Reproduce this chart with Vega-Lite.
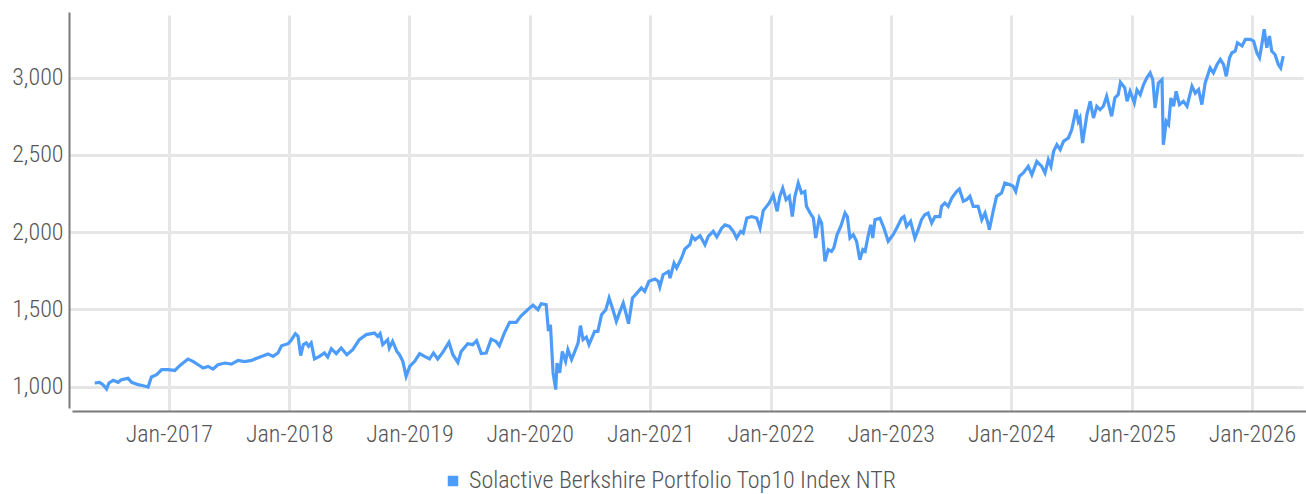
{
  "$schema": "https://vega.github.io/schema/vega-lite/v6.json",
  "width": 1234,
  "height": 396,
  "autosize": "none",
  "padding": {"left": 72, "top": 12, "right": 0, "bottom": 86},
  "background": "white",
  "config": {
    "view": {"stroke": null},
    "font": "Roboto Condensed, Liberation Sans Narrow, DejaVu Sans Condensed, Roboto",
    "axis": {
      "labelFont": "Roboto Condensed, Liberation Sans Narrow, DejaVu Sans Condensed, Roboto",
      "labelFontWeight": 300,
      "labelFontSize": 24,
      "labelColor": "#555555",
      "gridColor": "#e6e6e6",
      "gridWidth": 3,
      "domainColor": "#7a7a7a",
      "domainWidth": 2,
      "ticks": false,
      "title": null,
      "offset": 3
    },
    "legend": {
      "labelFont": "Roboto Condensed, Liberation Sans Narrow, DejaVu Sans Condensed, Roboto",
      "labelFontWeight": 300,
      "labelFontSize": 24,
      "labelColor": "#555555",
      "labelLimit": 0,
      "padding": 0
    }
  },
  "data": {
    "values": [
      {"date": "2016-05-21", "value": 1024, "series": "Solactive Berkshire Portfolio Top10 Index NTR"},
      {"date": "2016-06-05", "value": 1028, "series": "Solactive Berkshire Portfolio Top10 Index NTR"},
      {"date": "2016-06-15", "value": 1013, "series": "Solactive Berkshire Portfolio Top10 Index NTR"},
      {"date": "2016-06-26", "value": 985, "series": "Solactive Berkshire Portfolio Top10 Index NTR"},
      {"date": "2016-07-03", "value": 1024, "series": "Solactive Berkshire Portfolio Top10 Index NTR"},
      {"date": "2016-07-16", "value": 1041, "series": "Solactive Berkshire Portfolio Top10 Index NTR"},
      {"date": "2016-07-31", "value": 1028, "series": "Solactive Berkshire Portfolio Top10 Index NTR"},
      {"date": "2016-08-10", "value": 1045, "series": "Solactive Berkshire Portfolio Top10 Index NTR"},
      {"date": "2016-08-30", "value": 1054, "series": "Solactive Berkshire Portfolio Top10 Index NTR"},
      {"date": "2016-09-10", "value": 1028, "series": "Solactive Berkshire Portfolio Top10 Index NTR"},
      {"date": "2016-09-30", "value": 1013, "series": "Solactive Berkshire Portfolio Top10 Index NTR"},
      {"date": "2016-10-15", "value": 1006, "series": "Solactive Berkshire Portfolio Top10 Index NTR"},
      {"date": "2016-10-30", "value": 998, "series": "Solactive Berkshire Portfolio Top10 Index NTR"},
      {"date": "2016-11-09", "value": 1063, "series": "Solactive Berkshire Portfolio Top10 Index NTR"},
      {"date": "2016-11-25", "value": 1078, "series": "Solactive Berkshire Portfolio Top10 Index NTR"},
      {"date": "2016-12-10", "value": 1110, "series": "Solactive Berkshire Portfolio Top10 Index NTR"},
      {"date": "2016-12-30", "value": 1110, "series": "Solactive Berkshire Portfolio Top10 Index NTR"},
      {"date": "2017-01-19", "value": 1105, "series": "Solactive Berkshire Portfolio Top10 Index NTR"},
      {"date": "2017-02-03", "value": 1136, "series": "Solactive Berkshire Portfolio Top10 Index NTR"},
      {"date": "2017-02-13", "value": 1153, "series": "Solactive Berkshire Portfolio Top10 Index NTR"},
      {"date": "2017-02-28", "value": 1179, "series": "Solactive Berkshire Portfolio Top10 Index NTR"},
      {"date": "2017-03-15", "value": 1164, "series": "Solactive Berkshire Portfolio Top10 Index NTR"},
      {"date": "2017-03-31", "value": 1142, "series": "Solactive Berkshire Portfolio Top10 Index NTR"},
      {"date": "2017-04-15", "value": 1121, "series": "Solactive Berkshire Portfolio Top10 Index NTR"},
      {"date": "2017-04-30", "value": 1131, "series": "Solactive Berkshire Portfolio Top10 Index NTR"},
      {"date": "2017-05-15", "value": 1114, "series": "Solactive Berkshire Portfolio Top10 Index NTR"},
      {"date": "2017-05-30", "value": 1142, "series": "Solactive Berkshire Portfolio Top10 Index NTR"},
      {"date": "2017-06-20", "value": 1153, "series": "Solactive Berkshire Portfolio Top10 Index NTR"},
      {"date": "2017-07-10", "value": 1146, "series": "Solactive Berkshire Portfolio Top10 Index NTR"},
      {"date": "2017-07-30", "value": 1170, "series": "Solactive Berkshire Portfolio Top10 Index NTR"},
      {"date": "2017-08-19", "value": 1162, "series": "Solactive Berkshire Portfolio Top10 Index NTR"},
      {"date": "2017-09-09", "value": 1170, "series": "Solactive Berkshire Portfolio Top10 Index NTR"},
      {"date": "2017-09-19", "value": 1179, "series": "Solactive Berkshire Portfolio Top10 Index NTR"},
      {"date": "2017-10-09", "value": 1196, "series": "Solactive Berkshire Portfolio Top10 Index NTR"},
      {"date": "2017-10-29", "value": 1212, "series": "Solactive Berkshire Portfolio Top10 Index NTR"},
      {"date": "2017-11-13", "value": 1196, "series": "Solactive Berkshire Portfolio Top10 Index NTR"},
      {"date": "2017-11-28", "value": 1218, "series": "Solactive Berkshire Portfolio Top10 Index NTR"},
      {"date": "2017-12-09", "value": 1265, "series": "Solactive Berkshire Portfolio Top10 Index NTR"},
      {"date": "2017-12-29", "value": 1278, "series": "Solactive Berkshire Portfolio Top10 Index NTR"},
      {"date": "2018-01-08", "value": 1304, "series": "Solactive Berkshire Portfolio Top10 Index NTR"},
      {"date": "2018-01-20", "value": 1343, "series": "Solactive Berkshire Portfolio Top10 Index NTR"},
      {"date": "2018-01-28", "value": 1326, "series": "Solactive Berkshire Portfolio Top10 Index NTR"},
      {"date": "2018-02-05", "value": 1201, "series": "Solactive Berkshire Portfolio Top10 Index NTR"},
      {"date": "2018-02-13", "value": 1272, "series": "Solactive Berkshire Portfolio Top10 Index NTR"},
      {"date": "2018-02-22", "value": 1283, "series": "Solactive Berkshire Portfolio Top10 Index NTR"},
      {"date": "2018-03-01", "value": 1261, "series": "Solactive Berkshire Portfolio Top10 Index NTR"},
      {"date": "2018-03-09", "value": 1283, "series": "Solactive Berkshire Portfolio Top10 Index NTR"},
      {"date": "2018-03-19", "value": 1180, "series": "Solactive Berkshire Portfolio Top10 Index NTR"},
      {"date": "2018-04-03", "value": 1196, "series": "Solactive Berkshire Portfolio Top10 Index NTR"},
      {"date": "2018-04-18", "value": 1218, "series": "Solactive Berkshire Portfolio Top10 Index NTR"},
      {"date": "2018-04-28", "value": 1192, "series": "Solactive Berkshire Portfolio Top10 Index NTR"},
      {"date": "2018-05-09", "value": 1246, "series": "Solactive Berkshire Portfolio Top10 Index NTR"},
      {"date": "2018-05-24", "value": 1214, "series": "Solactive Berkshire Portfolio Top10 Index NTR"},
      {"date": "2018-06-08", "value": 1250, "series": "Solactive Berkshire Portfolio Top10 Index NTR"},
      {"date": "2018-06-25", "value": 1207, "series": "Solactive Berkshire Portfolio Top10 Index NTR"},
      {"date": "2018-07-13", "value": 1239, "series": "Solactive Berkshire Portfolio Top10 Index NTR"},
      {"date": "2018-08-02", "value": 1304, "series": "Solactive Berkshire Portfolio Top10 Index NTR"},
      {"date": "2018-08-23", "value": 1337, "series": "Solactive Berkshire Portfolio Top10 Index NTR"},
      {"date": "2018-09-17", "value": 1347, "series": "Solactive Berkshire Portfolio Top10 Index NTR"},
      {"date": "2018-09-27", "value": 1326, "series": "Solactive Berkshire Portfolio Top10 Index NTR"},
      {"date": "2018-10-04", "value": 1343, "series": "Solactive Berkshire Portfolio Top10 Index NTR"},
      {"date": "2018-10-12", "value": 1272, "series": "Solactive Berkshire Portfolio Top10 Index NTR"},
      {"date": "2018-10-27", "value": 1304, "series": "Solactive Berkshire Portfolio Top10 Index NTR"},
      {"date": "2018-11-01", "value": 1250, "series": "Solactive Berkshire Portfolio Top10 Index NTR"},
      {"date": "2018-11-11", "value": 1293, "series": "Solactive Berkshire Portfolio Top10 Index NTR"},
      {"date": "2018-11-24", "value": 1228, "series": "Solactive Berkshire Portfolio Top10 Index NTR"},
      {"date": "2018-12-02", "value": 1207, "series": "Solactive Berkshire Portfolio Top10 Index NTR"},
      {"date": "2018-12-12", "value": 1164, "series": "Solactive Berkshire Portfolio Top10 Index NTR"},
      {"date": "2018-12-22", "value": 1067, "series": "Solactive Berkshire Portfolio Top10 Index NTR"},
      {"date": "2019-01-02", "value": 1131, "series": "Solactive Berkshire Portfolio Top10 Index NTR"},
      {"date": "2019-01-17", "value": 1164, "series": "Solactive Berkshire Portfolio Top10 Index NTR"},
      {"date": "2019-02-01", "value": 1214, "series": "Solactive Berkshire Portfolio Top10 Index NTR"},
      {"date": "2019-02-16", "value": 1196, "series": "Solactive Berkshire Portfolio Top10 Index NTR"},
      {"date": "2019-03-03", "value": 1179, "series": "Solactive Berkshire Portfolio Top10 Index NTR"},
      {"date": "2019-03-15", "value": 1218, "series": "Solactive Berkshire Portfolio Top10 Index NTR"},
      {"date": "2019-03-28", "value": 1179, "series": "Solactive Berkshire Portfolio Top10 Index NTR"},
      {"date": "2019-04-12", "value": 1222, "series": "Solactive Berkshire Portfolio Top10 Index NTR"},
      {"date": "2019-05-01", "value": 1287, "series": "Solactive Berkshire Portfolio Top10 Index NTR"},
      {"date": "2019-05-13", "value": 1207, "series": "Solactive Berkshire Portfolio Top10 Index NTR"},
      {"date": "2019-05-28", "value": 1157, "series": "Solactive Berkshire Portfolio Top10 Index NTR"},
      {"date": "2019-06-07", "value": 1228, "series": "Solactive Berkshire Portfolio Top10 Index NTR"},
      {"date": "2019-06-27", "value": 1278, "series": "Solactive Berkshire Portfolio Top10 Index NTR"},
      {"date": "2019-07-12", "value": 1272, "series": "Solactive Berkshire Portfolio Top10 Index NTR"},
      {"date": "2019-07-24", "value": 1298, "series": "Solactive Berkshire Portfolio Top10 Index NTR"},
      {"date": "2019-08-07", "value": 1214, "series": "Solactive Berkshire Portfolio Top10 Index NTR"},
      {"date": "2019-08-22", "value": 1218, "series": "Solactive Berkshire Portfolio Top10 Index NTR"},
      {"date": "2019-09-06", "value": 1308, "series": "Solactive Berkshire Portfolio Top10 Index NTR"},
      {"date": "2019-09-21", "value": 1293, "series": "Solactive Berkshire Portfolio Top10 Index NTR"},
      {"date": "2019-10-01", "value": 1265, "series": "Solactive Berkshire Portfolio Top10 Index NTR"},
      {"date": "2019-10-16", "value": 1347, "series": "Solactive Berkshire Portfolio Top10 Index NTR"},
      {"date": "2019-11-01", "value": 1416, "series": "Solactive Berkshire Portfolio Top10 Index NTR"},
      {"date": "2019-11-21", "value": 1416, "series": "Solactive Berkshire Portfolio Top10 Index NTR"},
      {"date": "2019-12-06", "value": 1459, "series": "Solactive Berkshire Portfolio Top10 Index NTR"},
      {"date": "2019-12-26", "value": 1498, "series": "Solactive Berkshire Portfolio Top10 Index NTR"},
      {"date": "2020-01-11", "value": 1528, "series": "Solactive Berkshire Portfolio Top10 Index NTR"},
      {"date": "2020-01-26", "value": 1498, "series": "Solactive Berkshire Portfolio Top10 Index NTR"},
      {"date": "2020-02-05", "value": 1537, "series": "Solactive Berkshire Portfolio Top10 Index NTR"},
      {"date": "2020-02-20", "value": 1531, "series": "Solactive Berkshire Portfolio Top10 Index NTR"},
      {"date": "2020-02-27", "value": 1360, "series": "Solactive Berkshire Portfolio Top10 Index NTR"},
      {"date": "2020-03-04", "value": 1401, "series": "Solactive Berkshire Portfolio Top10 Index NTR"},
      {"date": "2020-03-12", "value": 1089, "series": "Solactive Berkshire Portfolio Top10 Index NTR"},
      {"date": "2020-03-20", "value": 981, "series": "Solactive Berkshire Portfolio Top10 Index NTR"},
      {"date": "2020-03-24", "value": 1153, "series": "Solactive Berkshire Portfolio Top10 Index NTR"},
      {"date": "2020-04-01", "value": 1089, "series": "Solactive Berkshire Portfolio Top10 Index NTR"},
      {"date": "2020-04-09", "value": 1228, "series": "Solactive Berkshire Portfolio Top10 Index NTR"},
      {"date": "2020-04-19", "value": 1164, "series": "Solactive Berkshire Portfolio Top10 Index NTR"},
      {"date": "2020-04-26", "value": 1239, "series": "Solactive Berkshire Portfolio Top10 Index NTR"},
      {"date": "2020-05-07", "value": 1175, "series": "Solactive Berkshire Portfolio Top10 Index NTR"},
      {"date": "2020-05-17", "value": 1228, "series": "Solactive Berkshire Portfolio Top10 Index NTR"},
      {"date": "2020-05-27", "value": 1283, "series": "Solactive Berkshire Portfolio Top10 Index NTR"},
      {"date": "2020-06-03", "value": 1395, "series": "Solactive Berkshire Portfolio Top10 Index NTR"},
      {"date": "2020-06-11", "value": 1304, "series": "Solactive Berkshire Portfolio Top10 Index NTR"},
      {"date": "2020-06-21", "value": 1321, "series": "Solactive Berkshire Portfolio Top10 Index NTR"},
      {"date": "2020-06-29", "value": 1272, "series": "Solactive Berkshire Portfolio Top10 Index NTR"},
      {"date": "2020-07-16", "value": 1358, "series": "Solactive Berkshire Portfolio Top10 Index NTR"},
      {"date": "2020-07-26", "value": 1358, "series": "Solactive Berkshire Portfolio Top10 Index NTR"},
      {"date": "2020-08-06", "value": 1466, "series": "Solactive Berkshire Portfolio Top10 Index NTR"},
      {"date": "2020-08-19", "value": 1498, "series": "Solactive Berkshire Portfolio Top10 Index NTR"},
      {"date": "2020-08-29", "value": 1574, "series": "Solactive Berkshire Portfolio Top10 Index NTR"},
      {"date": "2020-09-08", "value": 1509, "series": "Solactive Berkshire Portfolio Top10 Index NTR"},
      {"date": "2020-09-20", "value": 1423, "series": "Solactive Berkshire Portfolio Top10 Index NTR"},
      {"date": "2020-10-01", "value": 1487, "series": "Solactive Berkshire Portfolio Top10 Index NTR"},
      {"date": "2020-10-11", "value": 1541, "series": "Solactive Berkshire Portfolio Top10 Index NTR"},
      {"date": "2020-10-19", "value": 1477, "series": "Solactive Berkshire Portfolio Top10 Index NTR"},
      {"date": "2020-10-27", "value": 1408, "series": "Solactive Berkshire Portfolio Top10 Index NTR"},
      {"date": "2020-11-08", "value": 1574, "series": "Solactive Berkshire Portfolio Top10 Index NTR"},
      {"date": "2020-11-20", "value": 1602, "series": "Solactive Berkshire Portfolio Top10 Index NTR"},
      {"date": "2020-12-05", "value": 1639, "series": "Solactive Berkshire Portfolio Top10 Index NTR"},
      {"date": "2020-12-15", "value": 1617, "series": "Solactive Berkshire Portfolio Top10 Index NTR"},
      {"date": "2020-12-28", "value": 1682, "series": "Solactive Berkshire Portfolio Top10 Index NTR"},
      {"date": "2021-01-15", "value": 1697, "series": "Solactive Berkshire Portfolio Top10 Index NTR"},
      {"date": "2021-01-25", "value": 1682, "series": "Solactive Berkshire Portfolio Top10 Index NTR"},
      {"date": "2021-01-30", "value": 1645, "series": "Solactive Berkshire Portfolio Top10 Index NTR"},
      {"date": "2021-02-09", "value": 1725, "series": "Solactive Berkshire Portfolio Top10 Index NTR"},
      {"date": "2021-02-25", "value": 1746, "series": "Solactive Berkshire Portfolio Top10 Index NTR"},
      {"date": "2021-03-02", "value": 1703, "series": "Solactive Berkshire Portfolio Top10 Index NTR"},
      {"date": "2021-03-14", "value": 1800, "series": "Solactive Berkshire Portfolio Top10 Index NTR"},
      {"date": "2021-03-22", "value": 1768, "series": "Solactive Berkshire Portfolio Top10 Index NTR"},
      {"date": "2021-04-06", "value": 1833, "series": "Solactive Berkshire Portfolio Top10 Index NTR"},
      {"date": "2021-04-16", "value": 1891, "series": "Solactive Berkshire Portfolio Top10 Index NTR"},
      {"date": "2021-05-01", "value": 1919, "series": "Solactive Berkshire Portfolio Top10 Index NTR"},
      {"date": "2021-05-08", "value": 1973, "series": "Solactive Berkshire Portfolio Top10 Index NTR"},
      {"date": "2021-05-17", "value": 1951, "series": "Solactive Berkshire Portfolio Top10 Index NTR"},
      {"date": "2021-06-01", "value": 1977, "series": "Solactive Berkshire Portfolio Top10 Index NTR"},
      {"date": "2021-06-16", "value": 1919, "series": "Solactive Berkshire Portfolio Top10 Index NTR"},
      {"date": "2021-06-26", "value": 1973, "series": "Solactive Berkshire Portfolio Top10 Index NTR"},
      {"date": "2021-07-11", "value": 2005, "series": "Solactive Berkshire Portfolio Top10 Index NTR"},
      {"date": "2021-07-22", "value": 1969, "series": "Solactive Berkshire Portfolio Top10 Index NTR"},
      {"date": "2021-08-06", "value": 2027, "series": "Solactive Berkshire Portfolio Top10 Index NTR"},
      {"date": "2021-08-16", "value": 2048, "series": "Solactive Berkshire Portfolio Top10 Index NTR"},
      {"date": "2021-08-29", "value": 2037, "series": "Solactive Berkshire Portfolio Top10 Index NTR"},
      {"date": "2021-09-10", "value": 2005, "series": "Solactive Berkshire Portfolio Top10 Index NTR"},
      {"date": "2021-09-20", "value": 1962, "series": "Solactive Berkshire Portfolio Top10 Index NTR"},
      {"date": "2021-10-02", "value": 2005, "series": "Solactive Berkshire Portfolio Top10 Index NTR"},
      {"date": "2021-10-10", "value": 1994, "series": "Solactive Berkshire Portfolio Top10 Index NTR"},
      {"date": "2021-10-21", "value": 2091, "series": "Solactive Berkshire Portfolio Top10 Index NTR"},
      {"date": "2021-11-05", "value": 2101, "series": "Solactive Berkshire Portfolio Top10 Index NTR"},
      {"date": "2021-11-20", "value": 2091, "series": "Solactive Berkshire Portfolio Top10 Index NTR"},
      {"date": "2021-11-30", "value": 2027, "series": "Solactive Berkshire Portfolio Top10 Index NTR"},
      {"date": "2021-12-10", "value": 2140, "series": "Solactive Berkshire Portfolio Top10 Index NTR"},
      {"date": "2021-12-20", "value": 2167, "series": "Solactive Berkshire Portfolio Top10 Index NTR"},
      {"date": "2021-12-28", "value": 2189, "series": "Solactive Berkshire Portfolio Top10 Index NTR"},
      {"date": "2022-01-09", "value": 2240, "series": "Solactive Berkshire Portfolio Top10 Index NTR"},
      {"date": "2022-01-21", "value": 2135, "series": "Solactive Berkshire Portfolio Top10 Index NTR"},
      {"date": "2022-01-29", "value": 2232, "series": "Solactive Berkshire Portfolio Top10 Index NTR"},
      {"date": "2022-02-07", "value": 2285, "series": "Solactive Berkshire Portfolio Top10 Index NTR"},
      {"date": "2022-02-17", "value": 2210, "series": "Solactive Berkshire Portfolio Top10 Index NTR"},
      {"date": "2022-02-27", "value": 2232, "series": "Solactive Berkshire Portfolio Top10 Index NTR"},
      {"date": "2022-03-08", "value": 2101, "series": "Solactive Berkshire Portfolio Top10 Index NTR"},
      {"date": "2022-03-16", "value": 2232, "series": "Solactive Berkshire Portfolio Top10 Index NTR"},
      {"date": "2022-03-26", "value": 2318, "series": "Solactive Berkshire Portfolio Top10 Index NTR"},
      {"date": "2022-04-05", "value": 2253, "series": "Solactive Berkshire Portfolio Top10 Index NTR"},
      {"date": "2022-04-15", "value": 2264, "series": "Solactive Berkshire Portfolio Top10 Index NTR"},
      {"date": "2022-04-20", "value": 2167, "series": "Solactive Berkshire Portfolio Top10 Index NTR"},
      {"date": "2022-05-01", "value": 2124, "series": "Solactive Berkshire Portfolio Top10 Index NTR"},
      {"date": "2022-05-11", "value": 2091, "series": "Solactive Berkshire Portfolio Top10 Index NTR"},
      {"date": "2022-05-18", "value": 1962, "series": "Solactive Berkshire Portfolio Top10 Index NTR"},
      {"date": "2022-05-29", "value": 2091, "series": "Solactive Berkshire Portfolio Top10 Index NTR"},
      {"date": "2022-06-05", "value": 2059, "series": "Solactive Berkshire Portfolio Top10 Index NTR"},
      {"date": "2022-06-15", "value": 1811, "series": "Solactive Berkshire Portfolio Top10 Index NTR"},
      {"date": "2022-06-25", "value": 1887, "series": "Solactive Berkshire Portfolio Top10 Index NTR"},
      {"date": "2022-07-05", "value": 1876, "series": "Solactive Berkshire Portfolio Top10 Index NTR"},
      {"date": "2022-07-12", "value": 1898, "series": "Solactive Berkshire Portfolio Top10 Index NTR"},
      {"date": "2022-07-22", "value": 1984, "series": "Solactive Berkshire Portfolio Top10 Index NTR"},
      {"date": "2022-08-02", "value": 2037, "series": "Solactive Berkshire Portfolio Top10 Index NTR"},
      {"date": "2022-08-15", "value": 2124, "series": "Solactive Berkshire Portfolio Top10 Index NTR"},
      {"date": "2022-08-22", "value": 2101, "series": "Solactive Berkshire Portfolio Top10 Index NTR"},
      {"date": "2022-08-30", "value": 1962, "series": "Solactive Berkshire Portfolio Top10 Index NTR"},
      {"date": "2022-09-09", "value": 1984, "series": "Solactive Berkshire Portfolio Top10 Index NTR"},
      {"date": "2022-09-19", "value": 1941, "series": "Solactive Berkshire Portfolio Top10 Index NTR"},
      {"date": "2022-09-29", "value": 1822, "series": "Solactive Berkshire Portfolio Top10 Index NTR"},
      {"date": "2022-10-08", "value": 1887, "series": "Solactive Berkshire Portfolio Top10 Index NTR"},
      {"date": "2022-10-15", "value": 1876, "series": "Solactive Berkshire Portfolio Top10 Index NTR"},
      {"date": "2022-10-25", "value": 1984, "series": "Solactive Berkshire Portfolio Top10 Index NTR"},
      {"date": "2022-11-01", "value": 2048, "series": "Solactive Berkshire Portfolio Top10 Index NTR"},
      {"date": "2022-11-07", "value": 1962, "series": "Solactive Berkshire Portfolio Top10 Index NTR"},
      {"date": "2022-11-14", "value": 2081, "series": "Solactive Berkshire Portfolio Top10 Index NTR"},
      {"date": "2022-11-29", "value": 2091, "series": "Solactive Berkshire Portfolio Top10 Index NTR"},
      {"date": "2022-12-11", "value": 2027, "series": "Solactive Berkshire Portfolio Top10 Index NTR"},
      {"date": "2022-12-24", "value": 1941, "series": "Solactive Berkshire Portfolio Top10 Index NTR"},
      {"date": "2023-01-08", "value": 1984, "series": "Solactive Berkshire Portfolio Top10 Index NTR"},
      {"date": "2023-01-19", "value": 2027, "series": "Solactive Berkshire Portfolio Top10 Index NTR"},
      {"date": "2023-02-03", "value": 2091, "series": "Solactive Berkshire Portfolio Top10 Index NTR"},
      {"date": "2023-02-10", "value": 2101, "series": "Solactive Berkshire Portfolio Top10 Index NTR"},
      {"date": "2023-02-18", "value": 2037, "series": "Solactive Berkshire Portfolio Top10 Index NTR"},
      {"date": "2023-03-02", "value": 2070, "series": "Solactive Berkshire Portfolio Top10 Index NTR"},
      {"date": "2023-03-15", "value": 1962, "series": "Solactive Berkshire Portfolio Top10 Index NTR"},
      {"date": "2023-03-25", "value": 2016, "series": "Solactive Berkshire Portfolio Top10 Index NTR"},
      {"date": "2023-04-04", "value": 2081, "series": "Solactive Berkshire Portfolio Top10 Index NTR"},
      {"date": "2023-04-14", "value": 2113, "series": "Solactive Berkshire Portfolio Top10 Index NTR"},
      {"date": "2023-04-24", "value": 2124, "series": "Solactive Berkshire Portfolio Top10 Index NTR"},
      {"date": "2023-05-05", "value": 2059, "series": "Solactive Berkshire Portfolio Top10 Index NTR"},
      {"date": "2023-05-15", "value": 2101, "series": "Solactive Berkshire Portfolio Top10 Index NTR"},
      {"date": "2023-05-30", "value": 2101, "series": "Solactive Berkshire Portfolio Top10 Index NTR"},
      {"date": "2023-06-04", "value": 2167, "series": "Solactive Berkshire Portfolio Top10 Index NTR"},
      {"date": "2023-06-14", "value": 2189, "series": "Solactive Berkshire Portfolio Top10 Index NTR"},
      {"date": "2023-06-24", "value": 2167, "series": "Solactive Berkshire Portfolio Top10 Index NTR"},
      {"date": "2023-07-05", "value": 2221, "series": "Solactive Berkshire Portfolio Top10 Index NTR"},
      {"date": "2023-07-20", "value": 2264, "series": "Solactive Berkshire Portfolio Top10 Index NTR"},
      {"date": "2023-07-28", "value": 2279, "series": "Solactive Berkshire Portfolio Top10 Index NTR"},
      {"date": "2023-08-09", "value": 2200, "series": "Solactive Berkshire Portfolio Top10 Index NTR"},
      {"date": "2023-08-19", "value": 2210, "series": "Solactive Berkshire Portfolio Top10 Index NTR"},
      {"date": "2023-08-29", "value": 2232, "series": "Solactive Berkshire Portfolio Top10 Index NTR"},
      {"date": "2023-09-08", "value": 2167, "series": "Solactive Berkshire Portfolio Top10 Index NTR"},
      {"date": "2023-09-23", "value": 2167, "series": "Solactive Berkshire Portfolio Top10 Index NTR"},
      {"date": "2023-10-04", "value": 2081, "series": "Solactive Berkshire Portfolio Top10 Index NTR"},
      {"date": "2023-10-14", "value": 2124, "series": "Solactive Berkshire Portfolio Top10 Index NTR"},
      {"date": "2023-10-24", "value": 2048, "series": "Solactive Berkshire Portfolio Top10 Index NTR"},
      {"date": "2023-10-27", "value": 2016, "series": "Solactive Berkshire Portfolio Top10 Index NTR"},
      {"date": "2023-11-08", "value": 2140, "series": "Solactive Berkshire Portfolio Top10 Index NTR"},
      {"date": "2023-11-18", "value": 2232, "series": "Solactive Berkshire Portfolio Top10 Index NTR"},
      {"date": "2023-12-03", "value": 2253, "series": "Solactive Berkshire Portfolio Top10 Index NTR"},
      {"date": "2023-12-13", "value": 2318, "series": "Solactive Berkshire Portfolio Top10 Index NTR"},
      {"date": "2023-12-29", "value": 2307, "series": "Solactive Berkshire Portfolio Top10 Index NTR"},
      {"date": "2024-01-07", "value": 2297, "series": "Solactive Berkshire Portfolio Top10 Index NTR"},
      {"date": "2024-01-15", "value": 2264, "series": "Solactive Berkshire Portfolio Top10 Index NTR"},
      {"date": "2024-01-26", "value": 2361, "series": "Solactive Berkshire Portfolio Top10 Index NTR"},
      {"date": "2024-02-07", "value": 2383, "series": "Solactive Berkshire Portfolio Top10 Index NTR"},
      {"date": "2024-02-22", "value": 2426, "series": "Solactive Berkshire Portfolio Top10 Index NTR"},
      {"date": "2024-03-04", "value": 2372, "series": "Solactive Berkshire Portfolio Top10 Index NTR"},
      {"date": "2024-03-19", "value": 2458, "series": "Solactive Berkshire Portfolio Top10 Index NTR"},
      {"date": "2024-04-03", "value": 2426, "series": "Solactive Berkshire Portfolio Top10 Index NTR"},
      {"date": "2024-04-13", "value": 2383, "series": "Solactive Berkshire Portfolio Top10 Index NTR"},
      {"date": "2024-04-23", "value": 2469, "series": "Solactive Berkshire Portfolio Top10 Index NTR"},
      {"date": "2024-05-01", "value": 2426, "series": "Solactive Berkshire Portfolio Top10 Index NTR"},
      {"date": "2024-05-09", "value": 2523, "series": "Solactive Berkshire Portfolio Top10 Index NTR"},
      {"date": "2024-05-19", "value": 2566, "series": "Solactive Berkshire Portfolio Top10 Index NTR"},
      {"date": "2024-05-29", "value": 2534, "series": "Solactive Berkshire Portfolio Top10 Index NTR"},
      {"date": "2024-06-08", "value": 2588, "series": "Solactive Berkshire Portfolio Top10 Index NTR"},
      {"date": "2024-06-23", "value": 2610, "series": "Solactive Berkshire Portfolio Top10 Index NTR"},
      {"date": "2024-07-03", "value": 2663, "series": "Solactive Berkshire Portfolio Top10 Index NTR"},
      {"date": "2024-07-16", "value": 2793, "series": "Solactive Berkshire Portfolio Top10 Index NTR"},
      {"date": "2024-07-23", "value": 2717, "series": "Solactive Berkshire Portfolio Top10 Index NTR"},
      {"date": "2024-07-28", "value": 2739, "series": "Solactive Berkshire Portfolio Top10 Index NTR"},
      {"date": "2024-08-05", "value": 2577, "series": "Solactive Berkshire Portfolio Top10 Index NTR"},
      {"date": "2024-08-18", "value": 2760, "series": "Solactive Berkshire Portfolio Top10 Index NTR"},
      {"date": "2024-08-28", "value": 2847, "series": "Solactive Berkshire Portfolio Top10 Index NTR"},
      {"date": "2024-09-07", "value": 2739, "series": "Solactive Berkshire Portfolio Top10 Index NTR"},
      {"date": "2024-09-17", "value": 2815, "series": "Solactive Berkshire Portfolio Top10 Index NTR"},
      {"date": "2024-09-27", "value": 2793, "series": "Solactive Berkshire Portfolio Top10 Index NTR"},
      {"date": "2024-10-07", "value": 2815, "series": "Solactive Berkshire Portfolio Top10 Index NTR"},
      {"date": "2024-10-17", "value": 2880, "series": "Solactive Berkshire Portfolio Top10 Index NTR"},
      {"date": "2024-11-01", "value": 2750, "series": "Solactive Berkshire Portfolio Top10 Index NTR"},
      {"date": "2024-11-11", "value": 2869, "series": "Solactive Berkshire Portfolio Top10 Index NTR"},
      {"date": "2024-11-21", "value": 2890, "series": "Solactive Berkshire Portfolio Top10 Index NTR"},
      {"date": "2024-11-28", "value": 2970, "series": "Solactive Berkshire Portfolio Top10 Index NTR"},
      {"date": "2024-12-11", "value": 2934, "series": "Solactive Berkshire Portfolio Top10 Index NTR"},
      {"date": "2024-12-18", "value": 2847, "series": "Solactive Berkshire Portfolio Top10 Index NTR"},
      {"date": "2024-12-27", "value": 2912, "series": "Solactive Berkshire Portfolio Top10 Index NTR"},
      {"date": "2025-01-09", "value": 2837, "series": "Solactive Berkshire Portfolio Top10 Index NTR"},
      {"date": "2025-01-17", "value": 2920, "series": "Solactive Berkshire Portfolio Top10 Index NTR"},
      {"date": "2025-01-27", "value": 2890, "series": "Solactive Berkshire Portfolio Top10 Index NTR"},
      {"date": "2025-02-06", "value": 2955, "series": "Solactive Berkshire Portfolio Top10 Index NTR"},
      {"date": "2025-02-16", "value": 2999, "series": "Solactive Berkshire Portfolio Top10 Index NTR"},
      {"date": "2025-02-26", "value": 3031, "series": "Solactive Berkshire Portfolio Top10 Index NTR"},
      {"date": "2025-03-06", "value": 2988, "series": "Solactive Berkshire Portfolio Top10 Index NTR"},
      {"date": "2025-03-13", "value": 2804, "series": "Solactive Berkshire Portfolio Top10 Index NTR"},
      {"date": "2025-03-23", "value": 2966, "series": "Solactive Berkshire Portfolio Top10 Index NTR"},
      {"date": "2025-04-03", "value": 2988, "series": "Solactive Berkshire Portfolio Top10 Index NTR"},
      {"date": "2025-04-07", "value": 2566, "series": "Solactive Berkshire Portfolio Top10 Index NTR"},
      {"date": "2025-04-16", "value": 2717, "series": "Solactive Berkshire Portfolio Top10 Index NTR"},
      {"date": "2025-04-23", "value": 2696, "series": "Solactive Berkshire Portfolio Top10 Index NTR"},
      {"date": "2025-04-30", "value": 2869, "series": "Solactive Berkshire Portfolio Top10 Index NTR"},
      {"date": "2025-05-08", "value": 2815, "series": "Solactive Berkshire Portfolio Top10 Index NTR"},
      {"date": "2025-05-16", "value": 2912, "series": "Solactive Berkshire Portfolio Top10 Index NTR"},
      {"date": "2025-05-26", "value": 2826, "series": "Solactive Berkshire Portfolio Top10 Index NTR"},
      {"date": "2025-06-07", "value": 2847, "series": "Solactive Berkshire Portfolio Top10 Index NTR"},
      {"date": "2025-06-18", "value": 2815, "series": "Solactive Berkshire Portfolio Top10 Index NTR"},
      {"date": "2025-07-03", "value": 2945, "series": "Solactive Berkshire Portfolio Top10 Index NTR"},
      {"date": "2025-07-13", "value": 2900, "series": "Solactive Berkshire Portfolio Top10 Index NTR"},
      {"date": "2025-07-23", "value": 2923, "series": "Solactive Berkshire Portfolio Top10 Index NTR"},
      {"date": "2025-08-02", "value": 2826, "series": "Solactive Berkshire Portfolio Top10 Index NTR"},
      {"date": "2025-08-12", "value": 2966, "series": "Solactive Berkshire Portfolio Top10 Index NTR"},
      {"date": "2025-08-27", "value": 3063, "series": "Solactive Berkshire Portfolio Top10 Index NTR"},
      {"date": "2025-09-06", "value": 3031, "series": "Solactive Berkshire Portfolio Top10 Index NTR"},
      {"date": "2025-09-17", "value": 3085, "series": "Solactive Berkshire Portfolio Top10 Index NTR"},
      {"date": "2025-09-27", "value": 3118, "series": "Solactive Berkshire Portfolio Top10 Index NTR"},
      {"date": "2025-10-07", "value": 3085, "series": "Solactive Berkshire Portfolio Top10 Index NTR"},
      {"date": "2025-10-15", "value": 3009, "series": "Solactive Berkshire Portfolio Top10 Index NTR"},
      {"date": "2025-10-25", "value": 3129, "series": "Solactive Berkshire Portfolio Top10 Index NTR"},
      {"date": "2025-11-01", "value": 3161, "series": "Solactive Berkshire Portfolio Top10 Index NTR"},
      {"date": "2025-11-11", "value": 3172, "series": "Solactive Berkshire Portfolio Top10 Index NTR"},
      {"date": "2025-11-18", "value": 3226, "series": "Solactive Berkshire Portfolio Top10 Index NTR"},
      {"date": "2025-12-02", "value": 3205, "series": "Solactive Berkshire Portfolio Top10 Index NTR"},
      {"date": "2025-12-12", "value": 3248, "series": "Solactive Berkshire Portfolio Top10 Index NTR"},
      {"date": "2025-12-27", "value": 3248, "series": "Solactive Berkshire Portfolio Top10 Index NTR"},
      {"date": "2026-01-06", "value": 3237, "series": "Solactive Berkshire Portfolio Top10 Index NTR"},
      {"date": "2026-01-16", "value": 3161, "series": "Solactive Berkshire Portfolio Top10 Index NTR"},
      {"date": "2026-01-24", "value": 3129, "series": "Solactive Berkshire Portfolio Top10 Index NTR"},
      {"date": "2026-01-31", "value": 3215, "series": "Solactive Berkshire Portfolio Top10 Index NTR"},
      {"date": "2026-02-07", "value": 3313, "series": "Solactive Berkshire Portfolio Top10 Index NTR"},
      {"date": "2026-02-15", "value": 3194, "series": "Solactive Berkshire Portfolio Top10 Index NTR"},
      {"date": "2026-02-23", "value": 3269, "series": "Solactive Berkshire Portfolio Top10 Index NTR"},
      {"date": "2026-03-02", "value": 3172, "series": "Solactive Berkshire Portfolio Top10 Index NTR"},
      {"date": "2026-03-12", "value": 3150, "series": "Solactive Berkshire Portfolio Top10 Index NTR"},
      {"date": "2026-03-22", "value": 3085, "series": "Solactive Berkshire Portfolio Top10 Index NTR"},
      {"date": "2026-03-29", "value": 3063, "series": "Solactive Berkshire Portfolio Top10 Index NTR"},
      {"date": "2026-04-06", "value": 3140, "series": "Solactive Berkshire Portfolio Top10 Index NTR"}
    ]
  },
  "mark": {"type": "line", "strokeWidth": 3.2, "interpolate": "linear"},
  "encoding": {
    "x": {
      "field": "date",
      "type": "temporal",
      "scale": {"domain": [{"year": 2016, "month": 3, "date": 13}, {"year": 2026, "month": 6, "date": 14}], "nice": false},
      "axis": {"format": "%b-%Y", "tickCount": {"interval": "year", "step": 1}, "labelPadding": 11, "labelFlush": false, "labelOverlap": false}
    },
    "y": {
      "field": "value",
      "type": "quantitative",
      "scale": {"domain": [862, 3425], "nice": false, "zero": false},
      "axis": {"values": [1000, 1500, 2000, 2500, 3000], "format": ",.0f", "labelPadding": 6}
    },
    "color": {
      "field": "series",
      "type": "nominal",
      "scale": {"range": ["#4e9cf9"]},
      "legend": {"title": null, "orient": "none", "legendX": 369, "legendY": 457, "symbolType": "square", "symbolSize": 110, "symbolStrokeWidth": 0, "symbolFillColor": "#4e9cf9", "symbolOpacity": 1, "labelOffset": 4}
    }
  }
}
